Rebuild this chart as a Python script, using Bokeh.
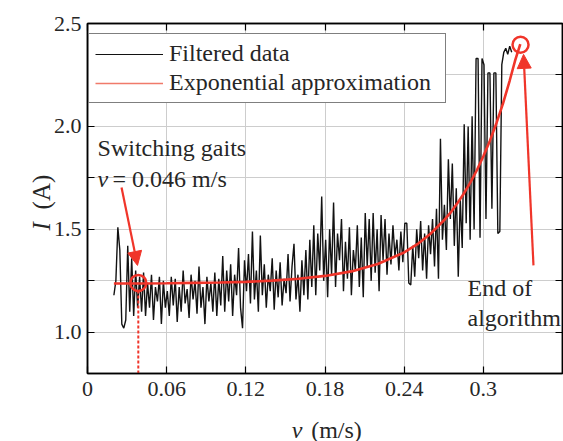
from bokeh.plotting import figure
from bokeh.models import (Range1d, FixedTicker, LinearAxis, Label, Arrow,
                          NormalHead, Legend, LegendItem)
from bokeh.embed import file_html
from bokeh.resources import INLINE

# ---------------- data ----------------
v_data = [
    0.0200, 0.0215, 0.0230, 0.0245, 0.0260, 0.0275, 0.0290, 0.0305, 0.0320, 0.0335,
    0.0350, 0.0365, 0.0380, 0.0395, 0.0410, 0.0425, 0.0440, 0.0455, 0.0470, 0.0485,
    0.0500, 0.0515, 0.0530, 0.0545, 0.0560, 0.0575, 0.0590, 0.0605, 0.0620, 0.0635,
    0.0650, 0.0665, 0.0680, 0.0695, 0.0710, 0.0725, 0.0740, 0.0755, 0.0770, 0.0785,
    0.0800, 0.0815, 0.0830, 0.0845, 0.0860, 0.0875, 0.0890, 0.0905, 0.0920, 0.0935,
    0.0950, 0.0965, 0.0980, 0.0995, 0.1010, 0.1025, 0.1040, 0.1055, 0.1070, 0.1085,
    0.1100, 0.1115, 0.1130, 0.1145, 0.1160, 0.1175, 0.1190, 0.1205, 0.1220, 0.1235,
    0.1250, 0.1265, 0.1280, 0.1295, 0.1310, 0.1325, 0.1340, 0.1355, 0.1370, 0.1385,
    0.1400, 0.1415, 0.1430, 0.1445, 0.1460, 0.1475, 0.1490, 0.1505, 0.1520, 0.1535,
    0.1550, 0.1565, 0.1580, 0.1595, 0.1610, 0.1625, 0.1640, 0.1655, 0.1670, 0.1685,
    0.1700, 0.1715, 0.1730, 0.1745, 0.1760, 0.1775, 0.1790, 0.1805, 0.1820, 0.1835,
    0.1850, 0.1865, 0.1880, 0.1895, 0.1910, 0.1925, 0.1940, 0.1955, 0.1970, 0.1985,
    0.2000, 0.2015, 0.2030, 0.2045, 0.2060, 0.2075, 0.2090, 0.2105, 0.2120, 0.2135,
    0.2150, 0.2165, 0.2180, 0.2195, 0.2210, 0.2225, 0.2240, 0.2255, 0.2270, 0.2285,
    0.2300, 0.2315, 0.2330, 0.2345, 0.2360, 0.2375, 0.2390, 0.2405, 0.2420, 0.2435,
    0.2450, 0.2465, 0.2480, 0.2495, 0.2510, 0.2525, 0.2540, 0.2555, 0.2570, 0.2585,
    0.2600, 0.2615, 0.2630, 0.2645, 0.2660, 0.2675, 0.2690, 0.2705, 0.2720, 0.2735,
    0.2750, 0.2765, 0.2780, 0.2795, 0.2810, 0.2825, 0.2840, 0.2855, 0.2870, 0.2885,
    0.2900, 0.2915, 0.2930, 0.2945, 0.2960, 0.2975, 0.2990, 0.3005, 0.3020, 0.3035,
    0.3050, 0.3065, 0.3080, 0.3095, 0.3110, 0.3125, 0.3140, 0.3155, 0.3170, 0.3185,
    0.3200, 0.3215,
]
i_data = [
    1.18, 1.25, 1.51, 1.40, 1.04, 1.02, 1.06, 1.42, 1.10, 1.36,
    1.08, 1.30, 1.12, 1.27, 1.10, 1.29, 1.08, 1.24, 1.12, 1.28,
    1.06, 1.22, 1.15, 1.27, 1.04, 1.25, 1.12, 1.20, 1.08, 1.27,
    1.13, 1.26, 1.05, 1.22, 1.10, 1.30, 1.14, 1.21, 1.07, 1.28,
    1.16, 1.25, 1.09, 1.32, 1.12, 1.22, 1.04, 1.27, 1.15, 1.24,
    1.10, 1.29, 1.08, 1.26, 1.13, 1.37, 1.10, 1.30, 1.15, 1.33,
    1.08, 1.28, 1.18, 1.41, 1.12, 1.02, 1.35, 1.20, 1.38, 1.14,
    1.49, 1.16, 1.30, 1.10, 1.47, 1.18, 1.33, 1.12, 1.28, 1.20,
    1.36, 1.11, 1.30, 1.17, 1.34, 1.13, 1.26, 1.19, 1.38, 1.15,
    1.32, 1.43, 1.16, 1.28, 1.10, 1.35, 1.18, 1.40, 1.16, 1.45,
    1.22, 1.52, 1.18, 1.48, 1.30, 1.66, 1.25, 1.45, 1.17, 1.50,
    1.28, 1.63, 1.22, 1.48, 1.35, 1.55, 1.20, 1.44, 1.26, 1.51,
    1.18, 1.40, 1.30, 1.52, 1.22, 1.46, 1.17, 1.58, 1.32, 1.55,
    1.25, 1.58, 1.29, 1.50, 1.20, 1.57, 1.35, 1.55, 1.28, 1.48,
    1.33, 1.52, 1.37, 1.45, 1.30, 1.49, 1.34, 1.53, 1.53, 1.24,
    1.23, 1.42, 1.27, 1.50, 1.36, 1.54, 1.30, 1.48, 1.26, 1.52,
    1.38, 1.55, 1.32, 1.60, 1.26, 1.94, 1.45, 1.62, 1.40, 1.84,
    1.55, 1.82, 1.42, 1.70, 1.27, 1.65, 1.41, 2.01, 1.53, 2.00,
    1.45, 2.05, 1.50, 2.33, 2.33, 1.46, 2.33, 2.30, 1.55, 2.26,
    2.26, 1.60, 2.26, 2.26, 1.48, 1.49, 2.30, 2.36, 2.38, 2.35,
    2.39, 2.36,
]
v_fit = [0.020, 0.040, 0.060, 0.080, 0.100, 0.120, 0.140, 0.160, 0.180, 0.200,
         0.220, 0.240, 0.250, 0.260, 0.270, 0.275, 0.280, 0.285, 0.290, 0.295,
         0.300, 0.305, 0.310, 0.315, 0.320, 0.324, 0.328]
i_fit = [1.237, 1.237, 1.238, 1.240, 1.242, 1.245, 1.251, 1.260, 1.274, 1.296,
         1.332, 1.388, 1.428, 1.479, 1.543, 1.580, 1.624, 1.672, 1.726, 1.786,
         1.855, 1.931, 2.017, 2.113, 2.223, 2.318, 2.400]
switch_v = [0.0385]
switch_i = [1.24]
end_v = [0.3282]
end_i = [2.397]

x_tick_values = [0, 0.06, 0.12, 0.18, 0.24, 0.3]
x_tick_labels = ["0", "0.06", "0.12", "0.18", "0.24", "0.3"]
y_tick_values = [1.0, 1.5, 2.0, 2.5]
y_tick_labels = ["1.0", "1.5", "2.0", "2.5"]
y_minor_values = [1.25, 1.75, 2.25]

# ---------------- style ----------------
FONT = "Liberation Serif"
RED = "#f0352a"
BLACK = "#121212"
TXT = "#262626"
GRID = "#cdcdcd"

p = figure(width=563, height=441, x_range=Range1d(0, 0.36), y_range=Range1d(0.8, 2.5),
           output_backend="svg", toolbar_location=None,
           min_border_left=87, min_border_right=1, min_border_top=23, min_border_bottom=68,
           background_fill_color="white", border_fill_color="white")
p.outline_line_color = "black"
p.outline_line_width = 1.5

xt = FixedTicker(ticks=x_tick_values)
yt = FixedTicker(ticks=y_tick_values, minor_ticks=y_minor_values)

for ax in p.xaxis:
    ax.ticker = xt
    ax.major_label_overrides = dict(zip(x_tick_values, x_tick_labels))
    ax.major_label_standoff = 8
for ax in p.yaxis:
    ax.ticker = yt
    ax.major_label_overrides = dict(zip(y_tick_values, y_tick_labels))
    ax.major_label_standoff = 6

for ax in list(p.xaxis) + list(p.yaxis):
    ax.major_tick_in = 7
    ax.major_tick_out = 0
    ax.minor_tick_in = 7
    ax.minor_tick_out = 0
    ax.axis_line_width = 1.5
    ax.major_tick_line_width = 1.2
    ax.minor_tick_line_width = 1.2
    ax.major_label_text_font = FONT
    ax.major_label_text_font_size = "22px"
    ax.major_label_text_color = TXT

top = LinearAxis(ticker=xt, major_tick_in=7, major_tick_out=0, minor_tick_in=0,
                 minor_tick_out=0, major_label_text_font_size="1px",
                 major_label_text_color=None, major_label_standoff=0,
                 axis_line_width=1.5, major_tick_line_width=1.2)
right = LinearAxis(ticker=yt, major_tick_in=7, major_tick_out=0, minor_tick_in=7,
                   minor_tick_out=0, major_label_text_font_size="1px",
                   major_label_text_color=None, major_label_standoff=0,
                   axis_line_width=1.5, major_tick_line_width=1.2,
                   minor_tick_line_width=1.2)
p.add_layout(top, "above")
p.add_layout(right, "right")

p.xgrid.grid_line_color = GRID
p.ygrid.grid_line_color = GRID
p.ygrid.minor_grid_line_color = GRID

# ---------------- data marks ----------------
p.line(v_data, i_data, line_color=BLACK, line_width=1.4)
p.line(v_fit, i_fit, line_color=RED, line_width=2.6)
p.segment(x0=switch_v, y0=[0.8], x1=switch_v, y1=[1.2], line_color=RED,
          line_width=2, line_dash="3 2")
p.scatter(switch_v, switch_i, marker="circle", size=16, fill_color=None,
          line_color=RED, line_width=2.5)
p.scatter(end_v, end_i, marker="circle", size=16, fill_color=None,
          line_color=RED, line_width=2.5)

# legend samples (thin lines as in the original; single points draw nothing)
leg_black = p.line(v_data[:1], i_data[:1], line_color=BLACK, line_width=1.2)
leg_red = p.line(v_fit[:1], i_fit[:1], line_color="#f07a6a", line_width=1.4)
legend = Legend(items=[LegendItem(label="Filtered data", renderers=[leg_black]),
                       LegendItem(label="Exponential approximation", renderers=[leg_red])],
                location=(1, 270), margin=0, padding=6, spacing=2,
                label_height=22, glyph_height=22, glyph_width=68, label_standoff=6,
                label_width=270,
                label_text_font=FONT, label_text_font_size="24px", label_text_color=TXT,
                border_line_color="black", border_line_width=1.2,
                background_fill_color="white", background_fill_alpha=1.0)
p.add_layout(legend)

# ---------------- annotations ----------------
p.add_layout(Arrow(end=NormalHead(size=14, fill_color=RED, line_color=RED),
                   x_start=0.0258, y_start=1.703, x_end=0.0379, y_end=1.325,
                   line_color=RED, line_width=2.2))
p.add_layout(Arrow(end=NormalHead(size=14, fill_color=RED, line_color=RED),
                   x_start=0.338, y_start=1.325, x_end=0.3305, y_end=2.35,
                   line_color=RED, line_width=2.2))

def mk(x, y, s, style="normal", angle=0, size="24px"):
    return Label(x=x, y=y, text=s, text_font=FONT, text_font_size=size,
                 text_font_style=style, text_color=TXT, angle=angle,
                 text_align="left", text_baseline="alphabetic")

p.add_layout(mk(0.0076, 1.893, "Switching gaits"))
p.add_layout(mk(0.0076, 1.747, "v", "italic"))
p.add_layout(mk(0.0190, 1.747, "= 0.046 m/s"))
p.add_layout(mk(0.288, 1.213, "End of"))
p.add_layout(mk(0.288, 1.072, "algorithm"))
# axis titles: placed in side panels (not clipped); panels chosen so that
# the reserved space fits inside the borders
p.add_layout(mk(0.1548, 0.528, "v", "italic"), "left")
p.add_layout(mk(0.1695, 0.528, "(m/s)"), "below")
p.add_layout(mk(-0.0349, 1.4946, "I", "italic", angle=1.5708, size="25px"), "above")
p.add_layout(mk(-0.0349, 1.597, "(A)", angle=1.5708, size="25px"), "left")

open("out.html", "w").write(file_html(p, INLINE))
